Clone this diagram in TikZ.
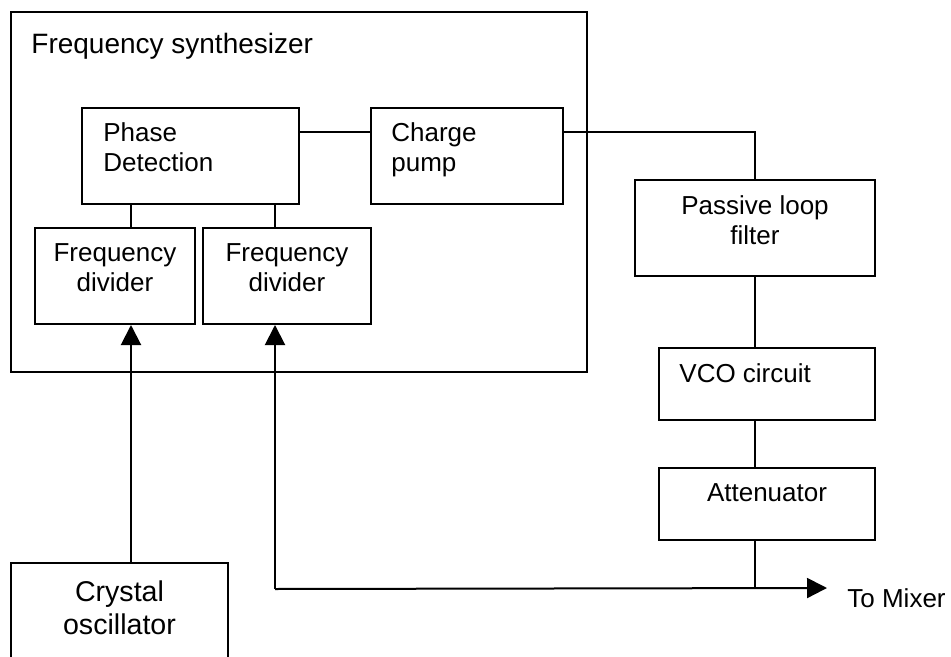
\documentclass[tikz,border=0pt]{standalone}
\usepackage{fontspec}
\setmainfont{Liberation Sans}
\usetikzlibrary{arrows.meta}
\tikzset{
  blk/.style={draw, line width=1pt, inner sep=0pt},
  lbl/.style={inner sep=0pt, font=\fontsize{13}{15}\selectfont},
  wire/.style={line width=1pt},
  arr/.style={line width=1pt, -{Triangle[length=10pt,width=10pt]}},
}

\begin{document}
\begin{tikzpicture}[x=0.5pt,y=-0.5pt]
\useasboundingbox (0,0) rectangle (951,657);

% Synthesizer frame
\node[blk, minimum width=288pt, minimum height=180pt] (syn) at (299,192) {};
\node[lbl, anchor=base west, font=\fontsize{14}{16}\selectfont] (syntxt) at ([shift={(21,43)}]syn.north west) {Frequency synthesizer};

% Blocks inside the synthesizer
\node[blk, minimum width=108.5pt, minimum height=48pt] (pd) at (190.5,156) {};
\node[lbl, anchor=base west, align=left] (pdtxt) at ([shift={(22,65)}]pd.north west) {Phase\\Detection};
\node[blk, minimum width=96pt, minimum height=48pt] (cp) at (467,156) {};
\node[lbl, anchor=base west, align=left] (cptxt) at ([shift={(21,65)}]cp.north west) {Charge\\pump};
\node[blk, minimum width=80pt, minimum height=48pt] (fda) at (115,276) {};
\node[lbl, anchor=base, align=center] (fdatxt) at ([shift={(0,65)}]fda.north) {Frequency\\divider};
\node[blk, minimum width=84pt, minimum height=48pt] (fdb) at (287,276) {};
\node[lbl, anchor=base, align=center] (fdbtxt) at ([shift={(0,65)}]fdb.north) {Frequency\\divider};

% Loop filter, VCO and attenuator
\node[blk, minimum width=120pt, minimum height=48pt] (plf) at (755,228) {};
\node[lbl, anchor=base, align=center] (plftxt) at ([shift={(0,66)}]plf.north) {Passive loop\\filter};
\node[blk, minimum width=108pt, minimum height=36pt] (vco) at (767,384) {};
\node[lbl, anchor=base west] (vcotxt) at ([shift={(21,35)}]vco.north west) {VCO circuit};
\node[blk, minimum width=108pt, minimum height=36pt] (att) at (767,504) {};
\node[lbl, anchor=base] (atttxt) at ([shift={(0,34)}]att.north) {Attenuator};

% Reference oscillator
\node[blk, minimum width=108.5pt, minimum height=60pt] (xo) at (119.5,623) {};
\node[lbl, anchor=base, align=center, font=\fontsize{14.3}{16.5}\selectfont] (xotxt) at ([shift={(0,72)}]xo.north) {Crystal\\oscillator};

% Connections
\draw[wire] ([yshift=12pt]pd.east) -- ([yshift=12pt]cp.west);
\draw[wire] ([yshift=12pt]cp.east) -| (plf.north);
\draw[wire] ([xshift=8pt]fda.north) -- ([xshift=8pt]fda.north |- pd.south);
\draw[wire] ([xshift=-6pt]fdb.north) -- ([xshift=-6pt]fdb.north |- pd.south);
\draw[wire] (plf.south) -- (plf.south |- vco.north);
\draw[wire] (plf.south |- vco.south) -- (plf.south |- att.north);
\coordinate (tap) at ([yshift=-24pt]plf.south |- att.south);
\draw[wire] (plf.south |- att.south) -- (tap);

% Feedback and output
\coordinate (corner) at ([xshift=-6pt]fdb.south |- tap);
\coordinate (tomix) at (827,588);
\draw[arr] (corner) -- ([xshift=-6pt]fdb.south);
\draw[arr] (corner) -- (tomix);
\node[lbl, anchor=base west] (mix) at (847,607) {To Mixer};
\draw[arr] ([xshift=5.75pt]xo.north) -- ([xshift=5.75pt]xo.north |- fda.south);
\end{tikzpicture}
\end{document}
